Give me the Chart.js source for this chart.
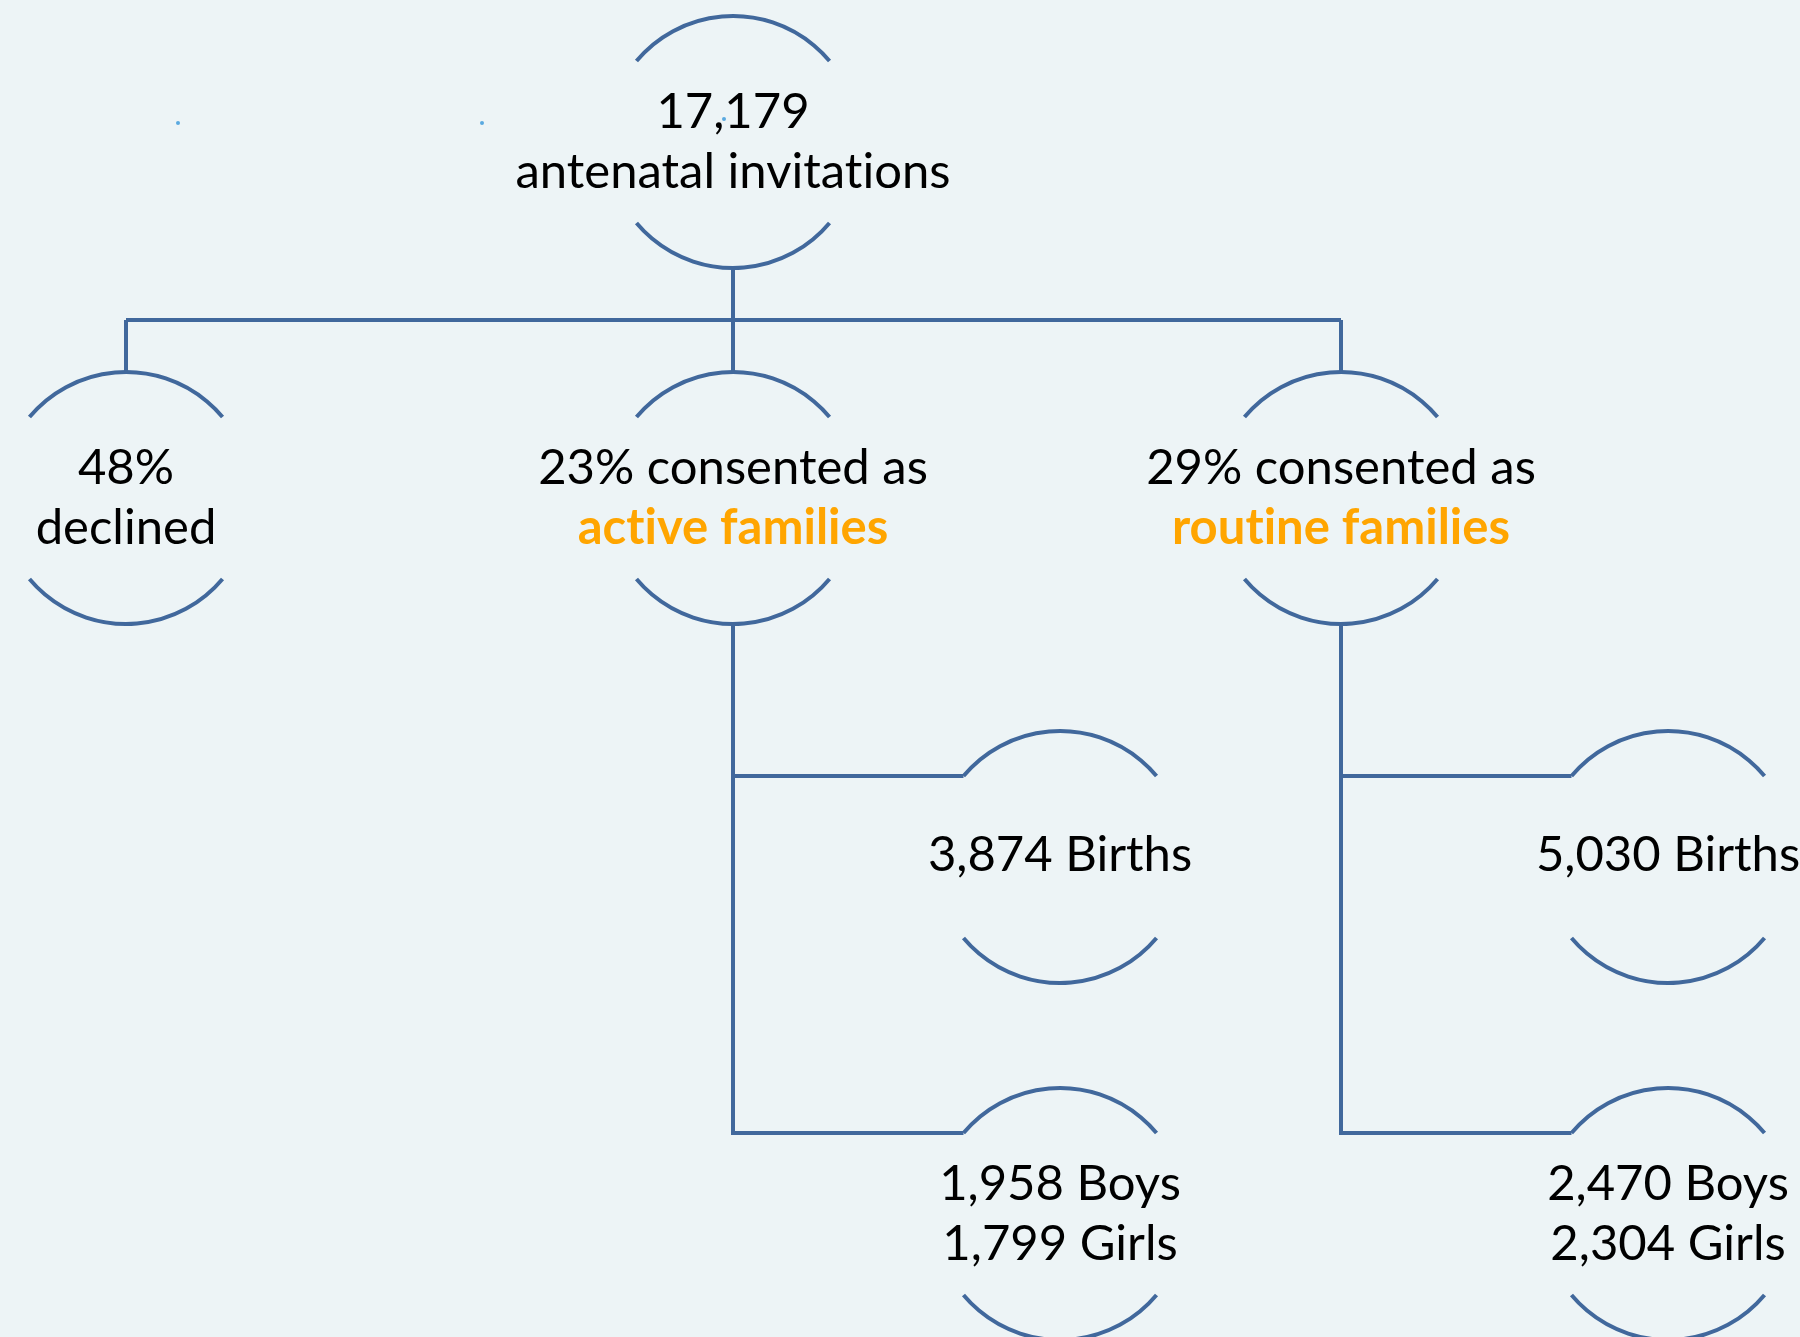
<!DOCTYPE html>
<html>
<head>
<meta charset="utf-8">
<script src="https://cdn.jsdelivr.net/npm/chart.js@4/dist/chart.umd.min.js"></script>
<style>
  html, body { margin: 0; padding: 0; background: #edf4f6; }
  #wrap { width: 1800px; height: 1337px; position: relative; }
</style>
</head>
<body>
<div id="wrap"><canvas id="chart" width="1800" height="1337"></canvas></div>
<script>
// tree nodes (axis units == reference pixels)
const nodeX = [733, 126, 733, 1341, 1060, 1060, 1668, 1668];
const nodeY = [142, 498, 498, 498, 857, 1214, 857, 1214];
const nodeLines = [
    ['17,179', 'antenatal invitations'],
    ['48%', 'declined'],
    ['23% consented as', 'active families'],
    ['29% consented as', 'routine families'],
    ['3,874 Births'],
    ['1,958 Boys', '1,799 Girls'],
    ['5,030 Births'],
    ['2,470 Boys', '2,304 Girls']
];
const highlighted = ['active families', 'routine families'];
const parentOf = [-1, 0, 0, 0, 2, 2, 3, 3];
const busY = 320;
// the stray little dots in the source picture
const dotX = [178, 482, 724];
const dotY = [123, 123, 119];

const R = 126;           // node arc radius
const ARC_DEG = 40;      // arc ends, degrees above/below horizontal
const LINE = '#41689c';
const ORANGE = '#ffa500';
const FONT = 'Lato, "Open Sans", sans-serif';

const rad = ARC_DEG * Math.PI / 180;

function buildConnectors() {
    const segs = [];
    const rootKids = [];
    parentOf.forEach((p, i) => { if (p === 0) rootKids.push(i); });

    // stem from root down to bus, the bus itself, and drops to each child
    segs.push([{ x: nodeX[0], y: nodeY[0] + R }, { x: nodeX[0], y: busY }]);
    const xs = rootKids.map(i => nodeX[i]);
    segs.push([{ x: Math.min(...xs), y: busY }, { x: Math.max(...xs), y: busY }]);
    rootKids.forEach(i => segs.push([{ x: nodeX[i], y: busY }, { x: nodeX[i], y: nodeY[i] - R }]));

    // side branches: a trunk down from the parent, elbows into each child's arc end
    [2, 3].forEach(p => {
        const kids = [];
        parentOf.forEach((q, i) => { if (q === p) kids.push(i); });
        const last = kids[kids.length - 1];
        kids.forEach(i => {
            const by = nodeY[i] - R * Math.sin(rad);
            const bx = nodeX[i] - R * Math.cos(rad);
            if (i === last) {
                segs.push([{ x: nodeX[p], y: nodeY[p] + R }, { x: nodeX[p], y: by }, { x: bx, y: by }]);
            } else {
                segs.push([{ x: nodeX[p], y: by }, { x: bx, y: by }]);
            }
        });
    });
    return segs;
}

const lineSets = buildConnectors().map(pts => ({
    type: 'line',
    data: pts,
    borderColor: LINE,
    borderWidth: 4,
    borderCapStyle: 'butt',
    borderJoinStyle: 'miter',
    pointRadius: 0,
    fill: false,
    tension: 0
}));

const dotSet = {
    type: 'scatter',
    data: dotX.map((x, i) => ({ x, y: dotY[i] })),
    pointRadius: 2,
    pointBackgroundColor: '#5aa9e0',
    pointBorderWidth: 0
};

const nodePlugin = {
    id: 'nodes',
    afterDatasetsDraw(chart) {
        const { ctx, scales: { x, y } } = chart;
        const rPx = x.getPixelForValue(R) - x.getPixelForValue(0);

        // pick a font size so the long root label has the reference's width
        ctx.save();
        ctx.font = '100px ' + FONT;
        const w = ctx.measureText('antenatal invitations').width;
        const size = Math.round(100 * 440 / w);

        nodeX.forEach((nx, i) => {
            const cx = x.getPixelForValue(nx);
            const cy = y.getPixelForValue(nodeY[i]);

            ctx.strokeStyle = LINE;
            ctx.lineWidth = 4;
            ctx.lineCap = 'butt';
            ctx.beginPath();
            ctx.arc(cx, cy, rPx, Math.PI + rad, 2 * Math.PI - rad);
            ctx.stroke();
            ctx.beginPath();
            ctx.arc(cx, cy, rPx, rad, Math.PI - rad);
            ctx.stroke();

            const lines = nodeLines[i];
            ctx.textAlign = 'center';
            ctx.textBaseline = 'middle';
            lines.forEach((t, k) => {
                const hi = highlighted.includes(t);
                ctx.font = (hi ? 'bold ' : '') + size + 'px ' + FONT;
                ctx.fillStyle = hi ? ORANGE : '#000';
                const off = lines.length === 1 ? -2 : (k === 0 ? -29.5 : 30);
                // keep Lato from joining "ti" into a ligature
                ctx.fillText(t.replace(/ti/g, 't\u200ci'), cx, cy + off);
            });
        });
        ctx.restore();
    }
};

new Chart(document.getElementById('chart'), {
    type: 'scatter',
    data: { datasets: [...lineSets, dotSet] },
    options: {
        responsive: false,
        animation: false,
        events: [],
        layout: { padding: 0, autoPadding: false },
        plugins: { legend: { display: false }, tooltip: { enabled: false } },
        scales: {
            x: { type: 'linear', min: 0, max: 1800, display: false },
            y: { type: 'linear', min: 0, max: 1337, reverse: true, display: false }
        }
    },
    plugins: [nodePlugin]
});
</script>
</body>
</html>
